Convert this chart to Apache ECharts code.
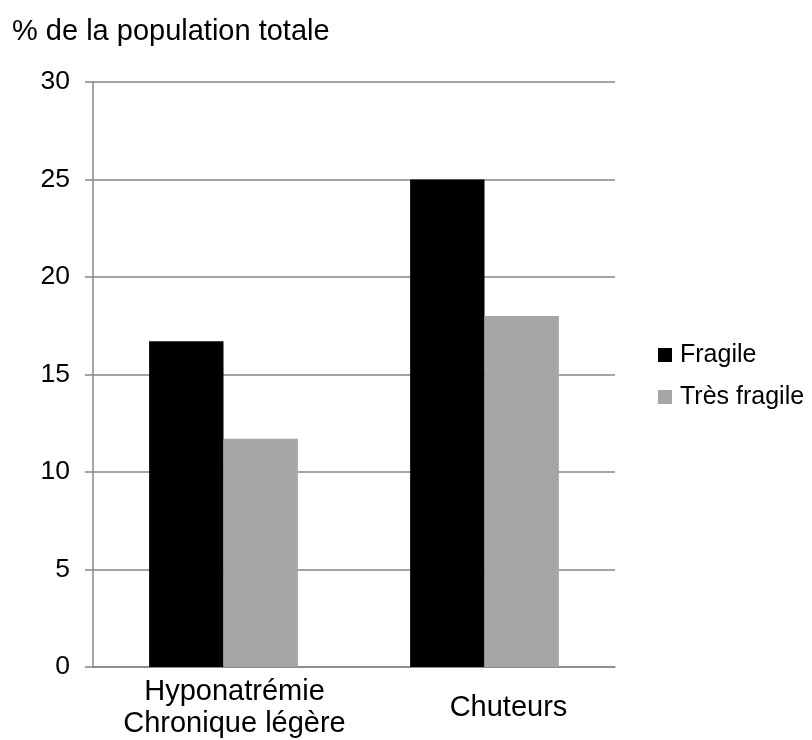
<!DOCTYPE html>
<html>
<head>
<meta charset="utf-8">
<script src="https://cdn.jsdelivr.net/npm/echarts@6/dist/echarts.min.js"></script>
<style>html,body{margin:0;padding:0;background:#fff;}#c{width:812px;height:740px;}</style>
</head>
<body>
<div id="c"></div>
<script>
const categories = ['Hyponatrémie\nChronique légère', 'Chuteurs'];
const fragile = [16.7, 25];
const tresFragile = [11.7, 18];
const seriesNames = ['Fragile', 'Très fragile'];
const yTicks = { min: 0, max: 30, interval: 5 };
const titleText = '% de la population totale';

const FONT = '"Liberation Sans", Arial, sans-serif';
const chart = echarts.init(document.getElementById('c'), null, { renderer: 'canvas' });
chart.setOption({
  animation: false,
  backgroundColor: '#ffffff',
  title: {
    text: titleText, left: 7, top: 12,
    textStyle: { fontFamily: FONT, fontSize: 29, fontWeight: 'normal', color: '#000' }
  },
  legend: {
    orient: 'vertical', left: 658, top: 341, padding: 0,
    icon: 'rect', itemWidth: 14, itemHeight: 14, itemGap: 14,
    textStyle: { fontFamily: FONT, fontSize: 25, color: '#000', lineHeight: 28, padding: [0, 0, 0, 3] },
    data: seriesNames
  },
  grid: { left: 93, right: 197, top: 82, bottom: 71, containLabel: false },
  xAxis: {
    type: 'category', data: categories,
    axisLine: { lineStyle: { color: '#868686', width: 1.5 } },
    axisTick: { show: false },
    axisLabel: {
      fontFamily: FONT, fontSize: 29, color: '#000', margin: 41, lineHeight: 32,
      verticalAlign: 'middle', interval: 0,
      formatter: function (v, i) {
        const key = i === 0 ? 'a' : 'b';
        return v.split('\n').map(s => '{' + key + '|' + s + '}').join('\n');
      },
      rich: {
        a: { fontFamily: FONT, fontSize: 29, color: '#000', lineHeight: 32, padding: [0, 0, 0, 22] },
        b: { fontFamily: FONT, fontSize: 29, color: '#000', lineHeight: 32, padding: [0, 0, 0, 48] }
      }
    }
  },
  yAxis: {
    type: 'value', min: yTicks.min, max: yTicks.max, interval: yTicks.interval,
    axisLine: { show: true, lineStyle: { color: '#868686', width: 1.5 } },
    axisTick: { show: true, length: 8, lineStyle: { color: '#868686', width: 1.5 } },
    splitLine: { lineStyle: { color: '#868686', width: 1.5 } },
    axisLabel: { fontFamily: FONT, fontSize: 26.5, color: '#000', margin: 23 }
  },
  series: [
    { name: seriesNames[0], type: 'bar', data: fragile, barGap: '0%', barCategoryGap: '43%',
      itemStyle: { color: '#000000' } },
    { name: seriesNames[1], type: 'bar', data: tresFragile, barGap: '0%', barCategoryGap: '43%',
      itemStyle: { color: '#a6a6a6' } }
  ]
});
</script>
</body>
</html>
